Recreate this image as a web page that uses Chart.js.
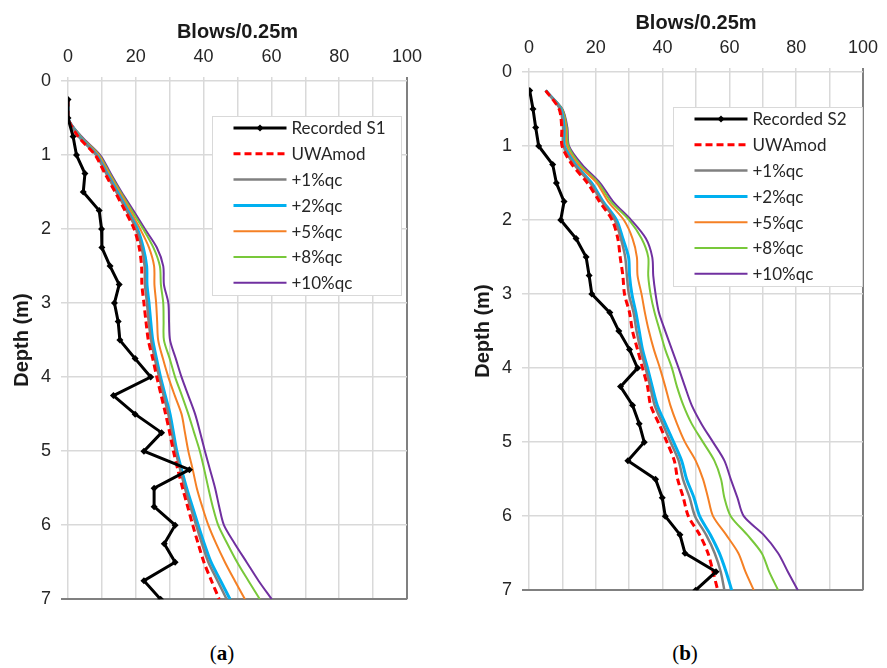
<!DOCTYPE html>
<html>
<head>
<meta charset="utf-8">
<script src="https://cdn.jsdelivr.net/npm/chart.js@4.4.0/dist/chart.umd.min.js"></script>
<style>
  body { margin: 0; background: #fff; width: 887px; height: 668px; position: relative; overflow: hidden; }
  .wrap { position: absolute; }
  #wa { left: 0; top: 0; width: 440px; height: 620px; }
  #wb { left: 440px; top: -9px; width: 447px; height: 620px; }
  .cap { position: absolute; top: 641px; width: 60px; text-align: center; font-family: "Liberation Serif", serif; font-size: 21px; color: #000; }
  .cap b { font-weight: bold; }
</style>
</head>
<body>
<div class="wrap" id="wa"><canvas id="chartA"></canvas></div>
<div class="wrap" id="wb"><canvas id="chartB"></canvas></div>
<div class="cap" style="left:192px">(<b>a</b>)</div>
<div class="cap" style="left:655px">(<b>b</b>)</div>
<script>
// depth (m) of every reading, shared by all series
const depths = [0.25, 0.5, 0.75, 1, 1.25, 1.5, 1.75, 2, 2.25, 2.5, 2.75, 3, 3.25, 3.5,
                3.75, 4, 4.25, 4.5, 4.75, 5, 5.25, 5.5, 5.75, 6, 6.25, 6.5, 6.75, 7];

const seriesNames = ['UWAmod', '+1%qc', '+2%qc', '+5%qc', '+8%qc', '+10%qc'];
const xTicks = [0, 20, 40, 60, 80, 100];

// site S1 (blows / 0.25m)
const recordedS1 = [0, 0, 1.5, 2.5, 5, 4.5, 9.2, 9.9, 10, 12.4, 15.1, 13.7, 14.8, 15.3,
                    19.8, 24.4, 13.4, 19.8, 27.6, 22.4, 35.8, 25.4, 25.4, 31.6, 28.4, 31.6, 22.4, 27.3];
const uwaS1  = [0, 0, 3.0, 8.0, 10.9, 13.9, 16.8, 19.5, 21.0, 21.7, 21.8, 22.4, 23.0, 23.7,
                25.0, 26.2, 27.5, 28.8, 30.0, 31.1, 32.4, 33.8, 35.3, 36.8, 38.4, 40.1, 42.3, 44.6];
const p1S1   = [0, 0, 3.2, 8.3, 11.3, 14.3, 17.3, 20.1, 21.7, 22.6, 22.7, 23.3, 23.8, 24.5,
                25.6, 26.9, 28.2, 29.6, 30.6, 31.7, 33.1, 34.5, 36.1, 37.8, 39.5, 41.4, 44.1, 46.8];
const p2S1   = [0, 0, 3.3, 8.5, 11.5, 14.6, 17.6, 20.5, 22.2, 23.2, 23.3, 23.9, 24.4, 25.0,
                26.1, 27.3, 28.7, 30.1, 31.1, 32.1, 33.5, 35.0, 36.7, 38.4, 40.2, 42.2, 45.0, 47.8];
const p5S1   = [0, 0, 3.6, 9.0, 12.0, 15.2, 18.3, 21.3, 23.9, 25.4, 25.5, 26.0, 26.3, 26.6,
                28.0, 29.6, 31.5, 33.5, 34.5, 35.5, 36.8, 38.0, 39.6, 41.4, 43.7, 46.3, 49.2, 52.2];
const p8S1   = [0, 0, 3.8, 9.2, 12.3, 15.5, 18.8, 22.2, 25.2, 27.1, 27.4, 28.1, 28.2, 28.3,
                30.0, 31.6, 33.6, 35.5, 37.2, 38.9, 40.2, 41.4, 42.7, 44.3, 47.0, 49.9, 53.2, 56.6];
const p10S1  = [0, 0, 4.0, 9.5, 12.6, 15.8, 19.3, 22.7, 26.2, 28.1, 28.3, 29.6, 29.8, 30.1,
                31.8, 33.5, 35.5, 37.5, 39.0, 40.4, 41.9, 43.4, 44.6, 46.0, 49.2, 52.7, 56.2, 60.1];

// site S2 (blows / 0.25m)
const recordedS2 = [0.2, 1.2, 2.0, 2.9, 7.1, 8.2, 10.5, 9.5, 14.1, 17.1, 18.0, 18.8, 24.2, 26.9,
                    30.1, 32.5, 27.4, 31.0, 33.0, 34.5, 29.6, 37.9, 39.9, 40.8, 45.2, 46.7, 56.0, 49.9];
const uwaS2  = [5, 9.0, 9.8, 9.9, 12.9, 17.5, 21.1, 24.9, 26.6, 27.3, 28.1, 28.6, 30.1, 31.0,
                32.5, 34.0, 35.5, 36.4, 38.9, 41.3, 43.5, 44.5, 46.2, 47.7, 51.1, 53.6, 55.1, 56.5];
const p1S2   = [5, 9.3, 10.2, 10.3, 13.5, 18.3, 21.8, 25.7, 27.5, 28.8, 29.3, 29.9, 31.3, 32.2,
                33.4, 34.9, 36.3, 37.6, 40.0, 42.4, 44.8, 46.1, 48.1, 49.7, 53.0, 55.6, 57.4, 58.5];
const p2S2   = [5, 9.5, 10.5, 10.6, 13.9, 18.8, 22.2, 26.2, 28.1, 29.8, 30.1, 30.8, 32.0, 33.0,
                34.0, 35.5, 36.9, 38.4, 40.8, 43.3, 45.7, 47.2, 49.4, 51.1, 54.3, 57.0, 59.0, 60.7];
const p5S2   = [5, 9.7, 11.0, 11.3, 14.7, 20.3, 23.7, 28.4, 31.0, 32.3, 32.5, 33.7, 34.7, 35.9,
                37.4, 39.2, 40.8, 42.3, 44.3, 46.7, 49.9, 52.1, 53.6, 55.1, 59.0, 62.7, 64.8, 67.3];
const p8S2   = [5, 9.9, 11.3, 11.8, 15.3, 20.8, 24.5, 30.0, 33.7, 35.7, 35.7, 36.4, 37.6, 39.2,
                40.8, 42.8, 44.3, 46.2, 48.7, 52.1, 55.5, 57.5, 58.5, 60.4, 65.3, 69.7, 71.9, 74.6];
const p10S2  = [5, 10.0, 11.5, 12.0, 15.9, 21.3, 25.2, 30.6, 35.0, 36.9, 37.2, 37.9, 38.9, 40.8,
                42.8, 44.8, 46.7, 48.7, 51.6, 55.1, 58.5, 60.4, 62.4, 64.3, 70.2, 74.6, 77.5, 80.5];

const lineColors = ['#ff0000', '#808080', '#00b0f0', '#f58025', '#78c83a', '#7030a0'];
const lineWidths = [3, 2.5, 3, 2, 2, 2];

function pts(vals) {
  return vals.map((v, i) => ({ x: v, y: depths[i] }));
}

function buildSets(recLabel, rec, models) {
  const sets = [{
    label: recLabel,
    data: pts(rec),
    showLine: true,
    borderColor: '#000',
    backgroundColor: '#000',
    borderWidth: 3,
    pointStyle: 'rectRot',
    pointRadius: 3.5,
    pointBorderWidth: 0,
    tension: 0
  }];
  models.forEach((m, i) => {
    sets.push({
      label: seriesNames[i],
      data: pts(m),
      showLine: true,
      borderColor: lineColors[i],
      backgroundColor: lineColors[i],
      borderWidth: lineWidths[i],
      borderDash: i === 0 ? [7, 4] : [],
      pointRadius: 0,
      tension: 0.3
    });
  });
  return sets;
}

// legend drawn as a framed box inside the plot
const boxLegend = {
  id: 'boxLegend',
  afterDatasetsDraw(chart, args, opts) {
    const { ctx, chartArea } = chart;
    const x0 = Math.round(chartArea.left + opts.left) + 0.5;
    const y0 = Math.round(chartArea.top + opts.top) + 0.5;
    ctx.save();
    ctx.fillStyle = '#fff';
    ctx.fillRect(x0, y0, opts.width, opts.height);
    ctx.strokeStyle = '#d9d9d9';
    ctx.lineWidth = 1;
    ctx.strokeRect(x0, y0, opts.width, opts.height);
    chart.data.datasets.forEach((ds, i) => {
      const y = y0 + 11.5 + i * 25.8;
      ctx.beginPath();
      ctx.setLineDash(ds.borderDash || []);
      ctx.strokeStyle = ds.borderColor;
      ctx.lineWidth = ds.borderWidth;
      ctx.moveTo(x0 + 21, y);
      ctx.lineTo(x0 + 74, y);
      ctx.stroke();
      ctx.setLineDash([]);
      if (ds.pointRadius) {
        const cx = x0 + 47.5;
        ctx.fillStyle = '#000';
        ctx.beginPath();
        ctx.moveTo(cx, y - 3.5); ctx.lineTo(cx + 3.5, y); ctx.lineTo(cx, y + 3.5); ctx.lineTo(cx - 3.5, y);
        ctx.closePath();
        ctx.fill();
      }
      ctx.fillStyle = '#262626';
      ctx.font = '17px Lato';
      ctx.textBaseline = 'middle';
      ctx.fillText(ds.label, x0 + 79, y + 1);
    });
    ctx.restore();
  }
};

function makeChart(id, sets, pad) {
  return new Chart(document.getElementById(id), {
    type: 'scatter',
    data: { datasets: sets },
    plugins: [boxLegend],
    options: {
      responsive: true,
      maintainAspectRatio: false,
      animation: false,
      layout: { padding: pad },
      plugins: {
        legend: { display: false },
        tooltip: { enabled: false },
        boxLegend: { left: 144, top: 35, width: 189, height: 179 }
      },
      scales: {
        x: {
          type: 'linear',
          position: 'top',
          min: 0,
          max: 100,
          afterFit: s => { s.height = 81; },
          ticks: {
            stepSize: 10,
            autoSkip: false,
            maxRotation: 0,
            padding: 9,
            color: '#262626',
            font: { family: 'Liberation Sans', size: 18 },
            callback: v => (xTicks.includes(v) ? v : '')
          },
          grid: {
            tickLength: 4,
            color: c => (c.tick && c.tick.value === 100 ? '#808080' : '#d9d9d9'),
            lineWidth: c => (c.tick && c.tick.value === 100 ? 2 : 1.5)
          },
          border: { display: false },
          title: {
            display: true,
            text: 'Blows/0.25m',
            color: '#1a1a1a',
            font: { family: 'Liberation Sans', size: 20, weight: 'bold' },
            padding: { top: 20, bottom: 0 }
          }
        },
        y: {
          type: 'linear',
          reverse: true,
          min: 0,
          max: 7,
          afterFit: s => { s.width = 68; },
          ticks: {
            stepSize: 1,
            padding: 10,
            color: '#262626',
            font: { family: 'Liberation Sans', size: 18 }
          },
          grid: {
            tickLength: 7,
            color: c => (c.tick && c.tick.value === 7 ? '#808080' : '#d9d9d9'),
            lineWidth: c => (c.tick && c.tick.value === 7 ? 2 : 1.5)
          },
          border: { display: false },
          title: {
            display: true,
            text: 'Depth (m)',
            color: '#1a1a1a',
            font: { family: 'Liberation Sans', size: 20, weight: 'bold' },
            padding: { top: 10, bottom: 0 }
          }
        }
      }
    }
  });
}

makeChart('chartA', buildSets('Recorded S1', recordedS1, [uwaS1, p1S1, p2S1, p5S1, p8S1, p10S1]),
  { left: 0, top: 0, right: 33, bottom: 18 });
makeChart('chartB', buildSets('Recorded S2', recordedS2, [uwaS2, p1S2, p2S2, p5S2, p8S2, p10S2]),
  { left: 21, top: 0, right: 17, bottom: 18 });
</script>
</body>
</html>
